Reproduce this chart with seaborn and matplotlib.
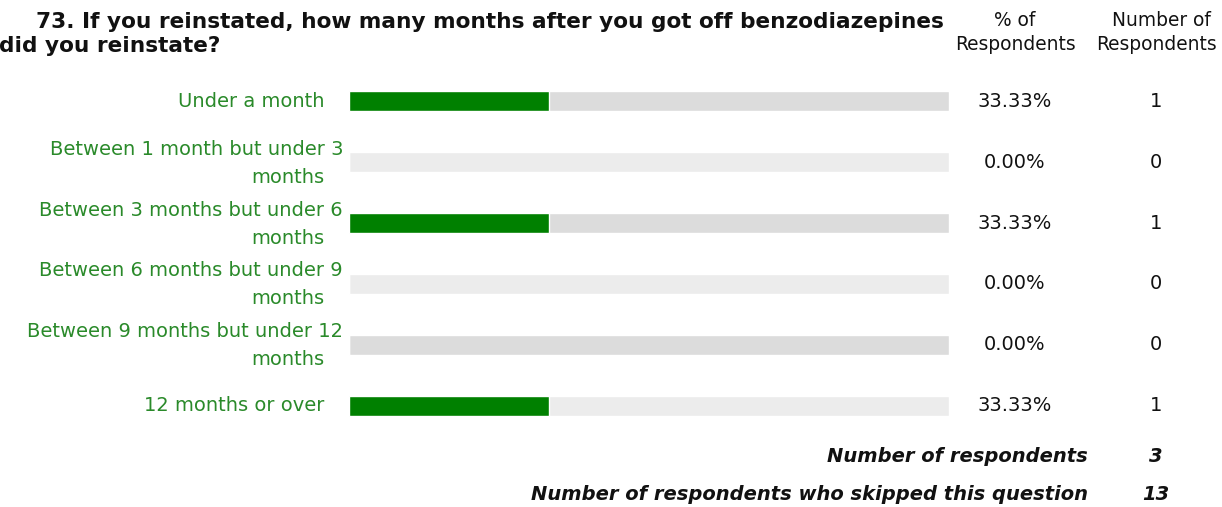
import matplotlib
matplotlib.use('Agg')
import matplotlib.pyplot as plt
import matplotlib.transforms as mtransforms
import pandas as pd
import seaborn as sns

# --- data ---
title_lines = [
    '73. If you reinstated, how many months after you got off benzodiazepines',
    'did you reinstate?',
]
answers = [
    'Under a month',
    'Between 1 month but under 3\nmonths',
    'Between 3 months but under 6\nmonths',
    'Between 6 months but under 9\nmonths',
    'Between 9 months but under 12\nmonths',
    '12 months or over',
]
percents = [33.33, 0.00, 33.33, 0.00, 0.00, 33.33]
counts = [1, 0, 1, 0, 0, 1]
footer_labels = ['Number of respondents', 'Number of respondents who skipped this question']
footer_values = [3, 13]

W, H = 1222, 507
GREEN_BAR = '#008000'
GREEN_TEXT = '#2a8a2a'
TRACKS = ['#dcdcdc', '#ececec'] * 3
FS = 14
HEAD_FS = 13.4
TITLE_FS = 15.6


def fx(px):
    return px / W


def fy(py):
    return 1 - py / H


sns.set_theme(style='white')
plt.rcParams['font.family'] = ['DejaVu Sans']

fig = plt.figure(figsize=(W / 100, H / 100), dpi=100)
fig.patch.set_facecolor('white')
ax = fig.add_axes([fx(349), fy(436), 600 / W, 365 / H])

df = pd.DataFrame({'answer': answers, 'pct': percents, 'track': 100.0})

# grey track behind each bar, then the green share
sns.barplot(data=df, x='track', y='answer', hue='answer', palette=TRACKS,
            width=0.33, saturation=1, legend=False, ax=ax)
sns.barplot(data=df, x='pct', y='answer', color=GREEN_BAR,
            width=0.33, saturation=1, ax=ax)
ax.set_xlim(0, 100)
ax.set_ylim(5.5, -0.5)
ax.axis('off')

row_tf = mtransforms.blended_transform_factory(fig.transFigure, ax.transData)

for i, (ans, pct, n) in enumerate(zip(answers, percents, counts)):
    lines = ans.split('\n')
    if len(lines) == 1:
        ax.text(fx(324), i, lines[0], transform=row_tf, ha='right', va='center',
                fontsize=FS, color=GREEN_TEXT)
    else:
        t1 = mtransforms.offset_copy(row_tf, fig=fig, x=0, y=13, units='dots')
        t2 = mtransforms.offset_copy(row_tf, fig=fig, x=0, y=-15, units='dots')
        ax.text(fx(343), i, lines[0], transform=t1, ha='right', va='center',
                fontsize=FS, color=GREEN_TEXT)
        ax.text(fx(324), i, lines[1], transform=t2, ha='right', va='center',
                fontsize=FS, color=GREEN_TEXT)
    ax.text(fx(1015), i, f'{pct:.2f}%', transform=row_tf, ha='center', va='center',
            fontsize=FS, color='#111111')
    ax.text(fx(1156), i, str(n), transform=row_tf, ha='center', va='center',
            fontsize=FS, color='#111111')

# title
fig.text(fx(36), fy(22), title_lines[0], ha='left', va='center',
         fontsize=TITLE_FS, fontweight='bold', color='#111111')
fig.text(fx(-1), fy(46), title_lines[1], ha='left', va='center',
         fontsize=TITLE_FS, fontweight='bold', color='#111111')

# column headers
headers = [(1015, 1015, '% of', 'Respondents'), (1161, 1156, 'Number of', 'Respondents')]
for cx1, cx2, l1, l2 in headers:
    fig.text(fx(cx1), fy(20), l1, ha='center', va='center', fontsize=HEAD_FS, color='#111111')
    fig.text(fx(cx2), fy(44), l2, ha='center', va='center', fontsize=HEAD_FS, color='#111111')

# footer
for py, lab, val in zip([457, 494], footer_labels, footer_values):
    fig.text(fx(1088), fy(py), lab, ha='right', va='center', fontsize=FS,
             fontweight='bold', fontstyle='italic', color='#111111')
    fig.text(fx(1156), fy(py), str(val), ha='center', va='center', fontsize=FS,
             fontweight='bold', fontstyle='italic', color='#111111')

fig.savefig('out.png', dpi=100, facecolor='white')
